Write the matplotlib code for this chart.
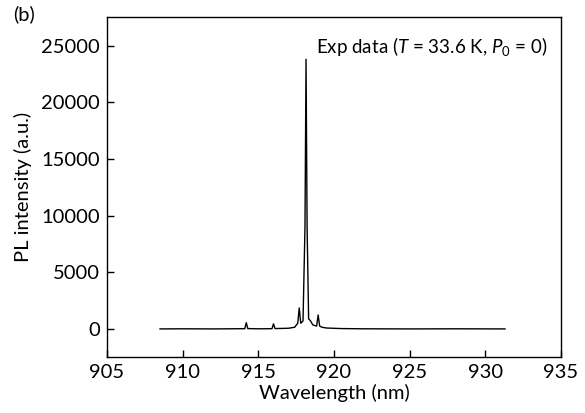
import matplotlib
matplotlib.use('Agg')
import matplotlib.pyplot as plt

plt.rcParams['font.family'] = ['Lato', 'DejaVu Sans']
plt.rcParams['mathtext.fontset'] = 'custom'
plt.rcParams['mathtext.rm'] = 'Lato'
plt.rcParams['mathtext.it'] = 'Lato:italic'

# spectrum (nm, a.u.)
wavelength = [908.5, 910.0, 912.0, 914.1, 914.2, 914.3, 915.0, 915.9, 916.0, 916.1,
              917.0, 917.4, 917.6, 917.7, 917.8, 917.95, 918.08, 918.15, 918.22,
              918.32, 918.45, 918.6, 918.85, 918.95, 919.05, 919.2, 919.5, 920.5,
              922.0, 925.0, 928.0, 931.3]
intensity = [0, 10, 0, 20, 550, 30, 10, 20, 450, 30,
             60, 150, 500, 1850, 500, 700, 9000, 23800, 9000,
             900, 700, 350, 250, 1230, 250, 150, 80, 30,
             10, 0, 10, 0]

x_ticks = [905, 910, 915, 920, 925, 930, 935]
y_ticks = [0, 5000, 10000, 15000, 20000, 25000]

fig, ax = plt.subplots(figsize=(5.85, 4.13), dpi=100)
fig.subplots_adjust(left=0.183, right=0.959, top=0.958, bottom=0.135)

ax.plot(wavelength, intensity, color='black', lw=1.0)
ax.set_xlim(905, 935)
ax.set_ylim(-2500, 27500)
ax.set_xticks(x_ticks)
ax.set_yticks(y_ticks)
ax.tick_params(direction='in', length=5, width=1, labelsize=14.5, pad=5)
ax.set_xlabel('Wavelength (nm)', fontsize=14.5, labelpad=2)
ax.set_ylabel('PL intensity (a.u.)', fontsize=14.5, labelpad=7)
for s in ax.spines.values():
    s.set_linewidth(1)

ax.text(918.8, 24900, r'Exp data ($T$ = 33.6 K, $P_0$ = 0)', fontsize=13.5, va='center')
fig.text(0.022, 0.965, '(b)', fontsize=14.5, va='center')

fig.savefig('out.png', dpi=100)
